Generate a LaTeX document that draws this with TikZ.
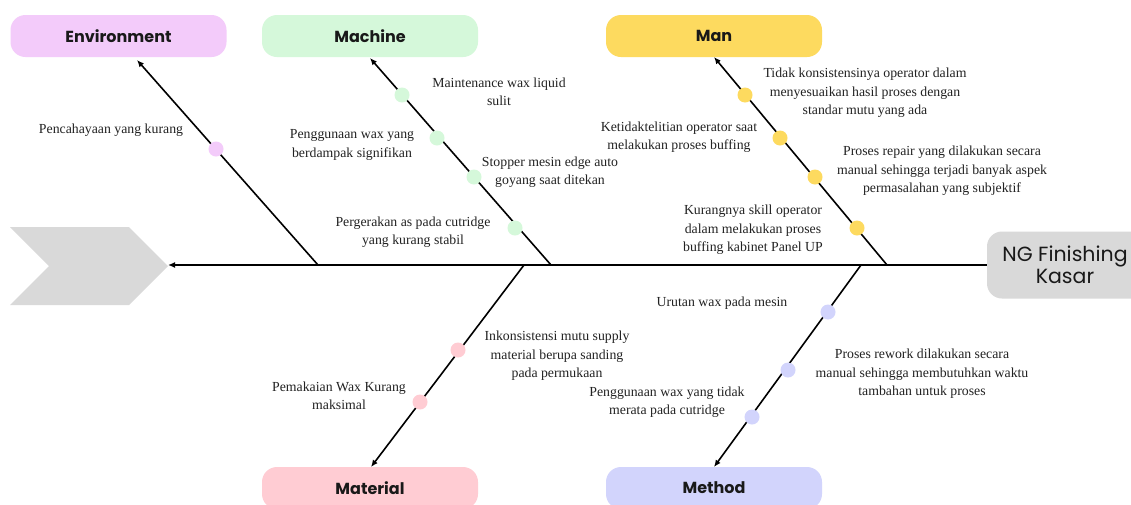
\documentclass[tikz,border=0pt]{standalone}
\usepackage{fontspec}
\setmainfont{Liberation Serif}
\newfontfamily\hfont{Poppins}
\usetikzlibrary{arrows.meta}
\definecolor{envc}{HTML}{F3CBFA}
\definecolor{macc}{HTML}{D5F8DA}
\definecolor{manc}{HTML}{FDDA5F}
\definecolor{matc}{HTML}{FFCCD3}
\definecolor{metc}{HTML}{D2D4FC}
\definecolor{grayc}{HTML}{D9D9D9}
\definecolor{txtc}{HTML}{222222}
\begin{document}
\begin{tikzpicture}[x=1pt,y=-1pt,
  cat/.style={rounded corners=15pt, minimum width=216pt, minimum height=42pt, inner sep=0pt,
    font=\hfont\bfseries\fontsize{16}{19}\selectfont, text=black!90},
  bone/.style={line width=1.6pt, draw=black, -{Latex[length=7pt,width=6pt]}},
  dot/.style={circle, inner sep=0pt, minimum size=15pt},
  lbl/.style={align=center, font=\fontsize{13.8}{18.5}\selectfont, text=txtc, inner sep=0pt}
]
\clip (0,0) rectangle (1131,504);
\fill[white] (0,0) rectangle (1131,504);

% category boxes
\node[cat, fill=envc] (env) at (118.5,36) {Environment};
\node[cat, fill=macc] (mac) at (370,36) {Machine};
\node[cat, fill=manc] (man) at (714,36) {Man};
\node[cat, fill=matc] (mat) at (370,488) {Material};
\node[cat, fill=metc] (met) at (714,488) {Method};

% head and tail
\node[rounded corners=15pt, fill=grayc, minimum width=166pt, minimum height=67pt, inner sep=0pt] (head) at (1070,265) {};
\node[align=center, font=\hfont\fontsize{20.5}{22.5}\selectfont, text=black!90] (headtxt) at (1065,265) {NG Finishing\\Kasar};
\fill[grayc] (10,227) -- (129,227) -- (168,266) -- (129,305) -- (10,305) -- (49,266) -- cycle;
\coordinate (tail) at (168,265);

% spine
\draw[bone] (head.west) -- (tail);

% bone roots and tips
\coordinate (sEnv) at (318,265);  \coordinate (tEnv) at (137,60);
\coordinate (sMac) at (551,265);  \coordinate (tMac) at (370,58);
\coordinate (sMan) at (887,265);  \coordinate (tMan) at (714,57);
\coordinate (sMat) at (524,265);  \coordinate (tMat) at (371,467);
\coordinate (sMet) at (861,265);  \coordinate (tMet) at (714,467);

\draw[bone] (sEnv) -- (tEnv);
\draw[bone] (sMac) -- (tMac);
\draw[bone] (sMan) -- (tMan);
\draw[bone] (sMat) -- (tMat);
\draw[bone] (sMet) -- (tMet);

% dots
\node[dot, fill=envc] (e1) at (216,149) {};
\node[dot, fill=macc] (c1) at (402,95) {};
\node[dot, fill=macc] (c2) at (437,138) {};
\node[dot, fill=macc] (c3) at (474,177) {};
\node[dot, fill=macc] (c4) at (515,228) {};
\node[dot, fill=manc] (m1) at (745,95) {};
\node[dot, fill=manc] (m2) at (780,138) {};
\node[dot, fill=manc] (m3) at (815,177) {};
\node[dot, fill=manc] (m4) at (857,228) {};
\node[dot, fill=matc] (a1) at (458,350) {};
\node[dot, fill=matc] (a2) at (420,402) {};
\node[dot, fill=metc] (d1) at (828,312) {};
\node[dot, fill=metc] (d2) at (788,370) {};
\node[dot, fill=metc] (d3) at (752,417) {};

% labels
\node[lbl] (le1) at (111,130) {Pencahayaan yang kurang};
\node[lbl] (lc1) at (499,92) {Maintenance wax liquid\\sulit};
\node[lbl] (lc2) at (352,145) {Penggunaan wax yang\\berdampak signifikan};
\node[lbl] (lc3) at (550,172) {Stopper mesin edge auto\\goyang saat ditekan};
\node[lbl] (lc4) at (413,232) {Pergerakan as pada cutridge\\yang kurang stabil};
\node[lbl] (lm1) at (865,93) {Tidak konsistensinya operator dalam\\menyesuaikan hasil proses dengan\\standar mutu yang ada};
\node[lbl] (lm2) at (679,137) {Ketidaktelitian operator saat\\melakukan proses buffing};
\node[lbl] (lm3) at (942,171) {Proses repair yang dilakukan secara\\manual sehingga terjadi banyak aspek\\permasalahan yang subjektif};
\node[lbl] (lm4) at (753,230) {Kurangnya skill operator\\dalam melakukan proses\\buffing kabinet Panel UP};
\node[lbl] (la1) at (557,356) {Inkonsistensi mutu supply\\material berupa sanding\\pada permukaan};
\node[lbl] (la2) at (339,396) {Pemakaian Wax Kurang\\maksimal};
\node[lbl] (ld1) at (722,303) {Urutan wax pada mesin};
\node[lbl] (ld2) at (922,374) {Proses rework dilakukan secara\\manual sehingga membutuhkan waktu\\tambahan untuk proses};
\node[lbl] (ld3) at (667,402) {Penggunaan wax yang tidak\\merata pada cutridge};
\end{tikzpicture}
\end{document}
